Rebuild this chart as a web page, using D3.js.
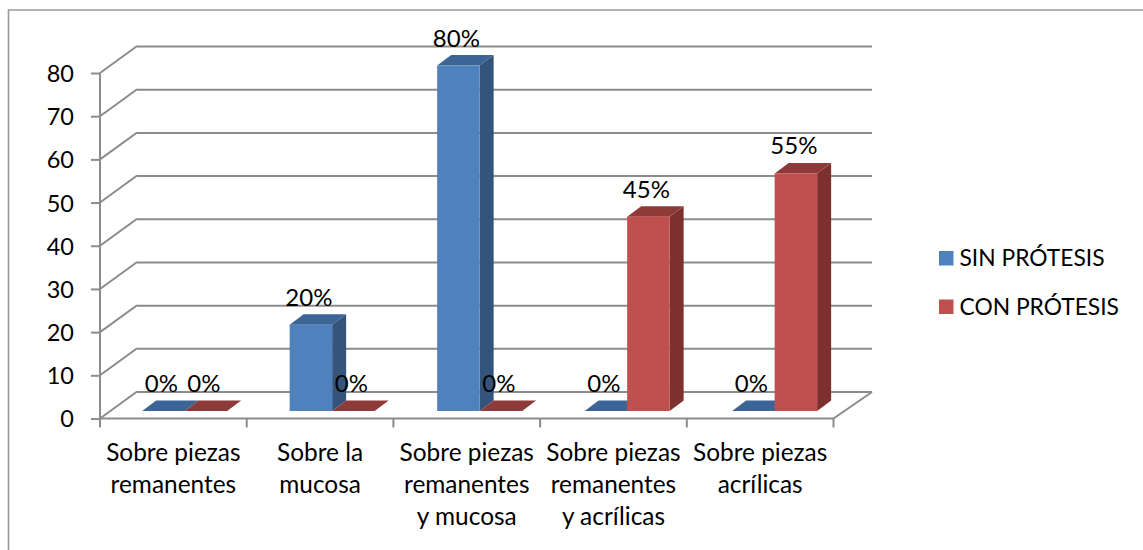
<!DOCTYPE html>
<html>
<head>
<meta charset="utf-8">
<script src="https://d3js.org/d3.v7.min.js"></script>
<style>
  html, body { margin: 0; padding: 0; background: #fff; overflow: hidden; }
  text { font-family: Lato, "Open Sans", sans-serif; fill: #000; }
</style>
</head>
<body>
<div id="chart"></div>
<script>
// chart values
var categories = ["Sobre piezas remanentes", "Sobre la mucosa", "Sobre piezas remanentes y mucosa", "Sobre piezas remanentes y acrílicas", "Sobre piezas acrílicas"];
var categoryLines = [["Sobre piezas", "remanentes"], ["Sobre la", "mucosa"], ["Sobre piezas", "remanentes", "y mucosa"], ["Sobre piezas", "remanentes", "y acrílicas"], ["Sobre piezas", "acrílicas"]];
var seriesNames = ["SIN PRÓTESIS", "CON PRÓTESIS"];
var sinProtesis = [0, 20, 80, 0, 0];
var conProtesis = [0, 0, 0, 45, 55];
var yTicks = [0, 10, 20, 30, 40, 50, 60, 70, 80];

var width = 1143, height = 550;
var gridColor = "#8c8c8c";
var colors = [
  { front: "#4f81bd", top: "#3c6494", side: "#34547b" },
  { front: "#c0504d", top: "#8e3a38", side: "#7d312f" }
];

// depth of the 3d box and of the bars
var wallDx = 36.5, wallDy = -26.5;
var barOffY = -7.5;
var barDx = 14, barDy = -10.5;

var svg = d3.select("#chart").append("svg")
  .attr("width", width)
  .attr("height", height);

var x = d3.scaleBand().domain(categories).range([100, 833.5]);
// bars are on the mid depth of the floor so their step is a bit wider than the axis
var xBars = d3.scaleBand().domain(categories).range([110.9, 848.4]);
var xInner = d3.scaleBand().domain(seriesNames).range([0, 85]);
var y = d3.scaleLinear().domain([0, 80]).range([418.5, 73]);

// frame, only top and left show in the picture
svg.append("path")
  .attr("d", "M8.5,550V10H1143")
  .attr("fill", "none")
  .attr("stroke", "#999")
  .attr("stroke-width", 1.6);

// back wall lines and left wall diagonals
var grid = svg.append("g").attr("stroke", gridColor).attr("stroke-width", 2).attr("fill", "none");
grid.selectAll("path")
  .data(yTicks)
  .enter()
  .append("path")
  .attr("d", function(d) {
    return d3.line()([[100, y(d)], [100 + wallDx, y(d) + wallDy], [872, y(d) + wallDy]]);
  });

// floor front and right edge
grid.append("path")
  .attr("d", d3.line()([[100, y(0)], [833.5, y(0)], [872, y(0) + wallDy]]));

// y axis
var yAxis = svg.append("g")
  .attr("transform", "translate(100,0)")
  .call(d3.axisLeft(y).tickValues(yTicks).tickSize(9).tickPadding(17));
yAxis.selectAll("path, line").attr("stroke", gridColor).attr("stroke-width", 2);
yAxis.select(".domain").attr("d", "M0," + y(0) + "V" + y(80));
yAxis.selectAll("text").style("font-size", "23.5px").attr("fill", "#000").attr("dy", "0.36em");

// x axis ticks sit on the band edges
var xEdges = categories.map(function(c) { return x(c); }).concat([x.range()[1]]);
svg.append("g").selectAll("line")
  .data(xEdges)
  .enter()
  .append("line")
  .attr("x1", function(d) { return d; })
  .attr("x2", function(d) { return d; })
  .attr("y1", y(0))
  .attr("y2", y(0) + 9)
  .attr("stroke", gridColor)
  .attr("stroke-width", 2);

// flatten the series into one list of bars
var bars = [];
categories.forEach(function(c, i) {
  bars.push({ cat: c, name: seriesNames[0], value: sinProtesis[i], s: 0 });
  bars.push({ cat: c, name: seriesNames[1], value: conProtesis[i], s: 1 });
});

function barX(d) { return xBars(d.cat) + xBars.bandwidth() / 2 - 42.5 + xInner(d.name); }

var barG = svg.append("g").selectAll("g")
  .data(bars)
  .enter()
  .append("g");

// side face
barG.append("path")
  .attr("fill", function(d) { return colors[d.s].side; })
  .attr("d", function(d) {
    var r = barX(d) + xInner.bandwidth(), b = y(0) + barOffY, t = y(d.value) + barOffY;
    return d3.line()([[r, b], [r + barDx, b + barDy], [r + barDx, t + barDy], [r, t]]) + "Z";
  });

// top face
barG.append("path")
  .attr("fill", function(d) { return colors[d.s].top; })
  .attr("d", function(d) {
    var l = barX(d), r = l + xInner.bandwidth(), t = y(d.value) + barOffY;
    return d3.line()([[l, t], [l + barDx, t + barDy], [r + barDx, t + barDy], [r, t]]) + "Z";
  });

// front face
barG.append("rect")
  .attr("x", barX)
  .attr("y", function(d) { return y(d.value) + barOffY; })
  .attr("width", xInner.bandwidth())
  .attr("height", function(d) { return y(0) - y(d.value); })
  .attr("fill", function(d) { return colors[d.s].front; });

// value labels
svg.append("g").selectAll("text")
  .data(bars)
  .enter()
  .append("text")
  .attr("x", function(d) { return barX(d) + xInner.bandwidth() / 2 - 2; })
  .attr("y", function(d) { return y(d.value) + barOffY - 19; })
  .attr("text-anchor", "middle")
  .style("font-size", "24px")
  .text(function(d) { return d.value + "%"; });

// category labels
var catLabels = svg.append("g").selectAll("text")
  .data(categories)
  .enter()
  .append("text")
  .attr("text-anchor", "middle")
  .style("font-size", "24.4px");
catLabels.selectAll("tspan")
  .data(function(c, i) { return categoryLines[i].map(function(l) { return { c: c, l: l }; }); })
  .enter()
  .append("tspan")
  .attr("x", function(d) { return x(d.c) + x.bandwidth() / 2; })
  .attr("y", function(d, i) { return 461 + i * 32; })
  .text(function(d) { return d.l; });

// legend
var legend = svg.append("g").selectAll("g")
  .data(seriesNames)
  .enter()
  .append("g")
  .attr("transform", function(d, i) { return "translate(939," + (251 + i * 48.5) + ")"; });
legend.append("rect")
  .attr("width", 14.5)
  .attr("height", 14.5)
  .attr("fill", function(d, i) { return colors[i].front; });
legend.append("text")
  .attr("x", 20.5)
  .attr("y", 15)
  .style("font-size", "22.8px")
  .text(function(d) { return d; });
</script>
</body>
</html>
